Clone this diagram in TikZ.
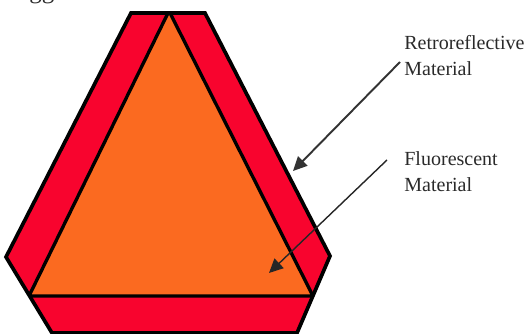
\documentclass[tikz,border=0pt]{standalone}
\usepackage{fontspec}
\setmainfont{Liberation Serif}
\usetikzlibrary{arrows.meta}
\definecolor{signred}{HTML}{F8042E}
\definecolor{signorange}{HTML}{FB6A20}
\definecolor{labelgray}{HTML}{2A2A2A}
\tikzset{
  x=0.02cm,y=-0.02cm,
  outline/.style={draw=black,line width=2.1pt,line join=miter},
  inneredge/.style={draw=black,line width=1.9pt,line join=miter},
  callout/.style={draw=black!80,line width=1.1pt,-{Triangle[length=8pt,width=7.5pt]}},
  calloutthin/.style={draw=black!85,line width=0.8pt,-{Triangle[length=8pt,width=7.5pt]}},
  lbl/.style={inner sep=0pt,anchor=base west,text=labelgray,font=\fontsize{11.4}{13}\selectfont}
}
\begin{document}
\begin{tikzpicture}
\useasboundingbox (0,0) rectangle (525,334);
\begin{scope}
\clip (0,0) rectangle (525,334);
\node[lbl,font=\fontsize{14.2}{16}\selectfont] (frag) at (29,-1.5) {gg};
\end{scope}
\coordinate (o1) at (131,13);
\coordinate (o2) at (205,13);
\coordinate (o3) at (330,256);
\coordinate (o4) at (297,333);
\coordinate (o5) at (52,333);
\coordinate (o6) at (6,257);
\coordinate (apex) at (169,11);
\coordinate (bl) at (29,296);
\coordinate (br) at (313,296);
\fill[signred] (o1) -- (o2) -- (o3) -- (o4) -- (o5) -- (o6) -- cycle;
\begin{scope}
\clip (o1) -- (o2) -- (o3) -- (o4) -- (o5) -- (o6) -- cycle;
\filldraw[inneredge,fill=signorange] (apex) -- (br) -- (bl) -- cycle;
\end{scope}
\draw[outline] (o1) -- (o2) -- (o3) -- (o4) -- (o5) -- (o6) -- cycle;
\node[lbl] (retro) at (404,50) {Retroreflective};
\node[lbl] (retro2) at (404,76) {Material};
\node[lbl] (fluo) at (404,166) {Fluorescent};
\node[lbl] (fluo2) at (404,192) {Material};
\coordinate (r0) at (400,62);
\coordinate (r1) at (293,171);
\coordinate (f0) at (387,160);
\coordinate (f1) at (269,273);
\draw[callout] (r0) -- (r1);
\draw[calloutthin] (f0) -- (f1);
\end{tikzpicture}
\end{document}
